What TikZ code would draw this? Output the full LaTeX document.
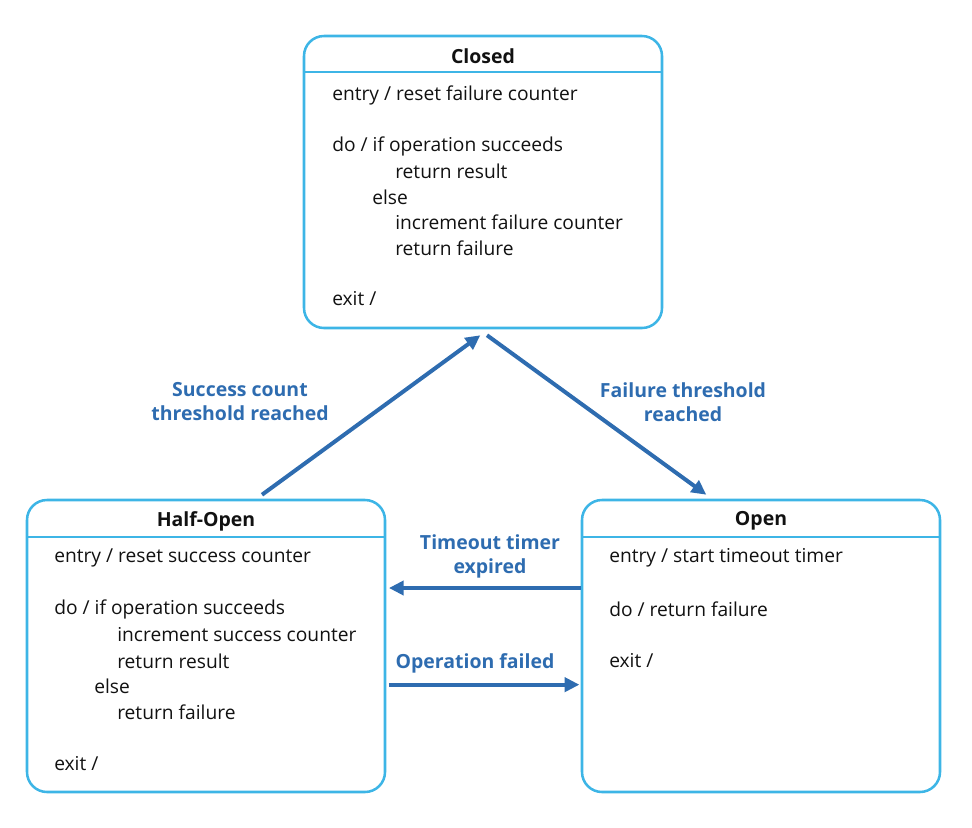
\documentclass[tikz,border=0pt]{standalone}
\usepackage{fontspec}
\setmainfont{Open Sans}
\usetikzlibrary{arrows.meta,calc}
\definecolor{boxblue}{HTML}{3DB5E6}
\definecolor{arrblue}{HTML}{2E6CB0}
\definecolor{txt}{HTML}{111111}
\tikzset{
  statebox/.style={draw=boxblue, line width=1.9pt, rounded corners=15pt, minimum width=268.5pt, minimum height=219pt, inner sep=0pt},
  sep/.style={draw=boxblue, line width=1.4pt},
  title/.style={font=\fontsize{14.6}{17}\selectfont\bfseries, text=txt, inner sep=0pt},
  body/.style={font=\fontsize{14.4}{17}\selectfont, text=txt, anchor=west, inner sep=0pt},
  lab/.style={font=\fontsize{14.6}{18}\selectfont\bfseries, text=arrblue, align=center, inner sep=0pt},
  trans/.style={draw=arrblue, line width=3pt, -{Triangle[length=11pt,width=10.5pt]}, shorten >=0pt},
}
\begin{document}
\begin{tikzpicture}[x=0.75pt,y=-0.75pt]
\useasboundingbox (0,0) rectangle (972,828);
% boxes
\node[statebox] (closed) at (483,182) {};
\node[statebox] (half) at (206,646) {};
\node[statebox] (open) at (761,646) {};
% separators
\draw[sep] (304,72) -- (662,72);
\draw[sep] (27,537) -- (385,537);
\draw[sep] (582,537) -- (940,537);
% titles
\node[title] (tclosed) at (483,56) {Closed};
\node[title] (thalf) at (206,521) {Half-Open};
\node[title] (topen) at (761,521) {Open};
% Closed body
\node[body] (c1) at (332,95) {entry / reset failure counter};
\node[body] (c2) at (332,146) {do / if operation succeeds};
\node[body] (c3) at (395,171) {return result};
\node[body] (c4) at (372,197) {else};
\node[body] (c5) at (395,222) {increment failure counter};
\node[body] (c6) at (395,248) {return failure};
\node[body] (c7) at (332,299) {exit /};
% Half-Open body
\node[body] (h1) at (54,558) {entry / reset success counter};
\node[body] (h2) at (54,609) {do / if operation succeeds};
\node[body] (h3) at (117,635) {increment success counter};
\node[body] (h4) at (117,661) {return result};
\node[body] (h5) at (94,686) {else};
\node[body] (h6) at (117,712) {return failure};
\node[body] (h7) at (54,764) {exit /};
% Open body
\node[body] (o1) at (609,558) {entry / start timeout timer};
\node[body] (o2) at (609,609) {do / return failure};
\node[body] (o3) at (609,661) {exit /};
% transitions
\draw[trans] ([xshift=42pt,yshift=3pt]half.north) -- ([xshift=-2pt,yshift=-4.5pt]closed.south);
\draw[trans] ([xshift=3pt,yshift=-4.5pt]closed.south) -- ([xshift=-41pt,yshift=3pt]open.north);
\draw[trans] ([xshift=0pt,yshift=43.5pt]open.west) -- ([xshift=2pt,yshift=43.5pt]half.east);
\draw[trans] ([xshift=2pt,yshift=-29pt]half.east) -- ([xshift=-1pt,yshift=-29pt]open.west);
% labels
\node[lab] (l1) at (240,402) {Success count\\threshold reached};
\node[lab] (l2) at (683,402) {Failure threshold\\reached};
\node[lab] (l3) at (490,556) {Timeout timer\\expired};
\node[lab] (l4) at (475,663) {Operation failed};
\end{tikzpicture}
\end{document}
